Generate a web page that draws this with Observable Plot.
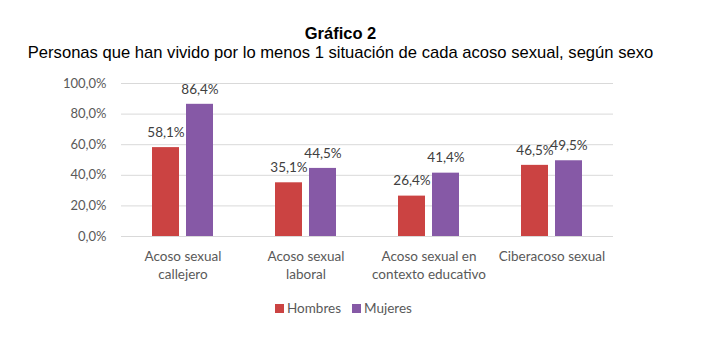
<!DOCTYPE html>
<html>
<head>
<meta charset="utf-8">
<script src="https://cdn.jsdelivr.net/npm/d3@7"></script>
<script src="https://cdn.jsdelivr.net/npm/@observablehq/plot@0.6"></script>
<style>
  html, body { margin: 0; padding: 0; background: #fff; }
  body { width: 703px; height: 361px; overflow: hidden; }
  .title { font-family: "Liberation Sans", Arial, sans-serif; font-weight: bold; font-size: 16.5px; line-height: 20px; text-align: center; color: #000; margin-top: 23px; padding-right: 22px; }
  .subtitle { font-family: "Liberation Sans", Arial, sans-serif; font-size: 16.6px; line-height: 20px; text-align: center; color: #000; padding-right: 22px; }
  #chart svg { display: block; }
  .legend { font-family: Lato, sans-serif; font-size: 13.5px; color: #595959; display: flex; justify-content: center; gap: 11px; margin-top: 10px; padding-right: 16px; }
  .legend span.item { display: inline-flex; align-items: center; }
  .legend span.sw { display: inline-block; width: 9px; height: 9px; margin-right: 3px; }
</style>
</head>
<body>
<div class="title">Gráfico 2</div>
<div class="subtitle">Personas que han vivido por lo menos 1 situación de cada acoso sexual, según sexo</div>
<div id="chart"></div>
<div class="legend" id="legend"></div>
<script>
const categories = ["Acoso sexual\ncallejero", "Acoso sexual\nlaboral", "Acoso sexual en\ncontexto educativo", "Ciberacoso sexual"];
const series = ["Hombres", "Mujeres"];
const hombres = [58.1, 35.1, 26.4, 46.5];
const mujeres = [86.4, 44.5, 41.4, 49.5];
const yTicks = [0, 20, 40, 60, 80, 100];
const colors = ["#CB4342", "#8659A6"];

const data = [];
categories.forEach((c, i) => {
  data.push({cat: c, sex: "Hombres", value: hombres[i]});
  data.push({cat: c, sex: "Mujeres", value: mujeres[i]});
});

const fmt = v => v.toFixed(1).replace(".", ",") + "%";

const chart = Plot.plot({
  width: 703,
  height: 227,
  marginTop: 20,
  marginBottom: 54,
  marginLeft: 120,
  marginRight: 90,
  style: { fontFamily: "Lato, sans-serif", background: "#fff" },
  fx: { domain: categories, padding: 0, label: null },
  x: { domain: series, axis: null, paddingInner: 0.2, paddingOuter: 0.86 },
  y: { domain: [0, 100], label: null },
  color: { domain: series, range: colors },
  marks: [
    Plot.gridY(yTicks, { stroke: "#d9d9d9", strokeOpacity: 1, strokeWidth: 1 }),
    Plot.axisY(yTicks, { tickSize: 0, tickPadding: 15, tickFormat: fmt, fontSize: 13, fill: "#595959", label: null }),
    Plot.axisFx({ anchor: "bottom", tickSize: 0, tickPadding: 11, fontSize: 13.5, fill: "#595959", lineHeight: 1.38, label: null }),
    Plot.barY(data, { fx: "cat", x: "sex", y: "value", fill: "sex" }),
    Plot.text(data, { fx: "cat", x: "sex", y: "value", text: d => fmt(d.value), dy: -15, fontSize: 13.5, fill: "#404040" })
  ]
});
document.getElementById("chart").appendChild(chart);

const legend = document.getElementById("legend");
series.forEach((s, i) => {
  const item = document.createElement("span");
  item.className = "item";
  const sw = document.createElement("span");
  sw.className = "sw";
  sw.style.background = colors[i];
  item.appendChild(sw);
  item.appendChild(document.createTextNode(s));
  legend.appendChild(item);
});
</script>
</body>
</html>
